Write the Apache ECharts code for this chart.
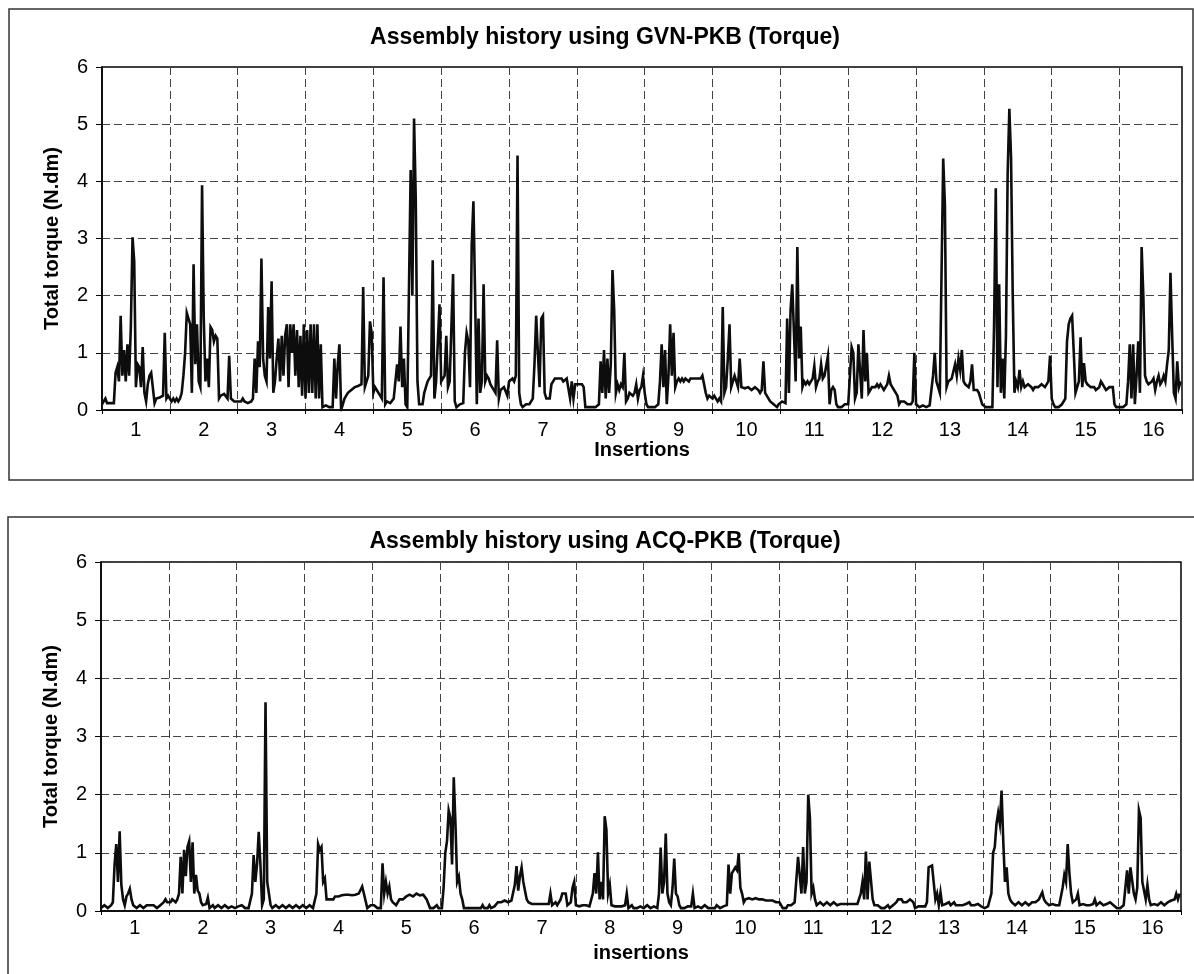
<!DOCTYPE html>
<html>
<head>
<meta charset="utf-8">
<script src="https://cdn.jsdelivr.net/npm/echarts@6/dist/echarts.min.js"></script>
<style>
  html, body { margin: 0; padding: 0; background: #fff; }
  #chart { width: 1194px; height: 974px; }
</style>
</head>
<body>
<div id="chart"></div>
<script>
// torque readings, 40 samples per insertion (last insertion is cut by the axis end)
const insertionLabels = ["1","2","3","4","5","6","7","8","9","10","11","12","13","14","15","16"];
const yTicks = [0, 1, 2, 3, 4, 5, 6];
const samplesPerInsertion = 40;
const xMax = 15.92;

const gvnTorque = [
  [0.1,0.15,0.2,0.12,0.1,0.12,0.1,0.12,0.65,0.75,0.5,1.65,0.6,1.05,0.5,1.15,0.6,1.45,3.02,2.6,0.4,0.8,0.75,0.4,1.1,0.3,0.15,0.45,0.6,0.65,0.65,0.12,0.2,0.2,0.22,0.25,0.25,1.35,0.2,0.25],
  [0.2,0.15,0.2,0.15,0.2,0.15,0.2,0.3,0.6,1.0,1.7,1.6,1.5,0.3,2.55,0.8,1.5,0.5,0.4,3.93,1.6,0.5,0.9,0.4,1.45,1.4,1.2,1.3,1.25,0.2,0.25,0.25,0.28,0.25,0.2,0.95,0.2,0.2,0.15,0.18],
  [0.15,0.18,0.15,0.2,0.15,0.15,0.12,0.15,0.15,0.2,0.9,0.3,1.2,0.75,2.65,0.9,0.6,0.5,1.8,0.9,2.25,0.3,0.5,0.9,1.25,0.5,1.3,0.6,1.3,1.5,0.4,1.5,1.0,1.5,0.6,1.4,0.4,1.3,0.25,1.5],
  [0.2,1.4,0.3,1.5,0.3,1.5,0.2,1.5,0.2,1.15,0.05,0.05,0.08,0.05,0.05,0.08,0.05,0.9,0.2,0.8,1.15,0.0,0.1,0.2,0.25,0.3,0.3,0.35,0.35,0.4,0.4,0.42,0.45,0.45,2.15,0.4,0.5,0.6,1.55,1.35],
  [0.3,0.4,0.35,0.3,0.25,0.2,2.32,0.1,0.15,0.15,0.12,0.15,0.2,0.2,0.8,0.5,1.46,0.4,0.9,0.1,0.05,0.05,4.2,2.0,5.1,3.7,0.5,0.1,0.1,0.1,0.3,0.4,0.5,0.5,0.6,2.62,0.2,0.5,0.5,1.85],
  [0.5,0.5,0.6,1.3,0.4,0.5,0.5,2.38,0.15,0.05,0.05,0.1,0.1,0.12,1.0,1.35,1.2,0.4,2.9,3.65,2.0,0.1,1.6,0.3,0.5,2.2,0.5,0.6,0.55,0.45,0.4,0.4,0.3,1.22,0.2,0.35,0.35,0.4,0.4,0.25],
  [0.5,0.5,0.55,0.5,0.6,4.45,0.3,0.1,0.05,0.05,0.1,0.08,0.1,0.1,0.2,0.8,1.65,1.0,0.4,1.6,1.65,0.3,0.2,0.2,0.2,0.45,0.5,0.55,0.52,0.55,0.55,0.55,0.5,0.5,0.55,0.55,0.2,0.5,0.2,0.45],
  [0.45,0.45,0.45,0.45,0.4,0.05,0.05,0.05,0.05,0.05,0.05,0.05,0.05,0.1,0.85,0.3,1.05,0.2,0.9,0.3,0.8,2.45,1.75,0.3,0.45,0.35,0.45,0.4,1.0,0.15,0.2,0.3,0.3,0.25,0.3,0.45,0.2,0.35,0.4,0.6],
  [0.3,0.1,0.05,0.05,0.05,0.05,0.05,0.05,0.1,0.5,1.15,0.4,1.05,0.1,0.6,1.5,0.6,1.35,0.4,0.5,0.55,0.5,0.55,0.5,0.55,0.52,0.5,0.55,0.52,0.55,0.55,0.55,0.58,0.55,0.6,0.6,0.3,0.2,0.25,0.22],
  [0.2,0.25,0.2,0.15,0.2,0.15,1.8,0.3,0.4,0.9,1.5,0.4,0.5,0.6,0.5,0.4,0.9,0.4,0.4,0.38,0.35,0.4,0.4,0.35,0.35,0.4,0.4,0.35,0.3,0.35,0.85,0.3,0.3,0.2,0.15,0.12,0.1,0.08,0.05,0.1],
  [0.1,0.15,0.15,0.12,1.6,0.3,1.75,2.2,1.35,0.5,2.85,0.9,1.46,0.4,0.5,0.45,0.5,0.45,0.5,0.55,0.77,0.4,0.5,0.55,0.8,0.55,0.6,0.6,0.94,0.1,0.35,0.4,0.35,0.1,0.05,0.05,0.05,0.05,0.1,0.1],
  [0.1,0.1,1.1,1.0,0.2,0.3,1.15,1.15,0.2,1.4,0.5,1.0,0.3,0.35,0.4,0.4,0.4,0.45,0.4,0.45,0.4,0.35,0.4,0.45,0.6,0.45,0.4,0.35,0.35,0.25,0.1,0.15,0.15,0.15,0.15,0.1,0.1,0.1,0.15,1.0],
  [0.1,0.1,0.05,0.05,0.08,0.05,0.05,0.05,0.08,0.1,0.6,1.0,0.5,0.4,0.3,0.3,4.4,3.6,0.4,0.5,0.5,0.55,0.55,0.8,0.6,0.9,0.7,1.05,0.5,0.45,0.45,0.4,0.5,0.8,0.35,0.35,0.35,0.3,0.3,0.1],
  [0.1,0.05,0.05,0.05,0.05,0.05,1.5,3.88,0.4,2.2,0.3,0.9,0.2,1.3,4.14,5.27,4.42,2.0,0.3,0.5,0.4,0.7,0.4,0.5,0.4,0.4,0.45,0.45,0.4,0.35,0.4,0.4,0.4,0.4,0.45,0.45,0.4,0.4,0.5,0.95],
  [0.2,0.1,0.05,0.05,0.05,0.05,0.1,0.1,0.2,1.2,1.5,1.6,1.65,1.0,0.3,0.4,0.5,1.27,0.4,0.82,0.5,0.45,0.45,0.4,0.4,0.4,0.35,0.35,0.4,0.5,0.45,0.4,0.35,0.35,0.4,0.4,0.4,0.1,0.05,0.05],
  [0.05,0.05,0.05,0.08,0.1,0.5,1.15,0.2,1.15,0.1,0.6,1.2,0.3,2.85,2.0,0.6,0.5,0.45,0.45,0.5,0.55,0.35,0.5,0.6,0.45,0.5,0.6,0.5,0.8,1.05,2.4,1.3,0.3,0.2,0.85,0.4,0.5]
];

const acqTorque = [
  [0.05,0.08,0.1,0.08,0.05,0.08,0.1,0.15,0.8,1.15,0.5,1.37,0.45,0.2,0.1,0.25,0.3,0.38,0.2,0.1,0.08,0.05,0.08,0.1,0.08,0.05,0.08,0.1,0.12,0.1,0.08,0.1,0.08,0.05,0.08,0.1,0.12,0.15,0.2,0.15],
  [0.15,0.15,0.2,0.18,0.15,0.2,0.3,0.93,0.3,1.05,0.6,1.1,1.2,0.5,1.18,0.3,0.62,0.35,0.3,0.15,0.1,0.1,0.12,0.23,0.05,0.08,0.1,0.05,0.08,0.1,0.1,0.05,0.08,0.1,0.08,0.05,0.05,0.08,0.05,0.05],
  [0.05,0.08,0.05,0.1,0.08,0.05,0.08,0.05,0.05,0.3,0.96,0.5,0.8,1.36,0.8,0.1,0.2,3.59,0.5,0.3,0.1,0.05,0.08,0.1,0.08,0.05,0.08,0.1,0.08,0.05,0.08,0.1,0.08,0.05,0.08,0.1,0.08,0.05,0.08,0.1],
  [0.08,0.05,0.08,0.1,0.08,0.05,0.08,0.3,1.15,1.05,1.1,0.5,0.56,0.2,0.18,0.2,0.22,0.2,0.25,0.23,0.25,0.25,0.27,0.25,0.28,0.27,0.28,0.26,0.27,0.28,0.28,0.25,0.3,0.32,0.42,0.3,0.3,0.05,0.08,0.1],
  [0.1,0.1,0.08,0.05,0.08,0.05,0.82,0.3,0.5,0.3,0.42,0.2,0.15,0.15,0.1,0.12,0.2,0.2,0.2,0.22,0.25,0.25,0.28,0.28,0.25,0.25,0.3,0.28,0.27,0.28,0.28,0.25,0.2,0.2,0.05,0.05,0.05,0.08,0.1,0.05],
  [0.05,0.05,0.4,1.0,1.2,1.73,1.6,0.8,2.3,1.5,0.5,0.59,0.3,0.2,0.05,0.05,0.05,0.08,0.05,0.05,0.05,0.08,0.05,0.05,0.05,0.1,0.05,0.08,0.05,0.1,0.05,0.05,0.08,0.05,0.15,0.15,0.15,0.15,0.18,0.15],
  [0.15,0.15,0.18,0.2,0.45,0.77,0.35,0.6,0.75,0.5,0.35,0.2,0.15,0.15,0.12,0.1,0.12,0.15,0.12,0.1,0.12,0.15,0.12,0.15,0.12,0.3,0.1,0.12,0.15,0.1,0.12,0.2,0.3,0.32,0.3,0.1,0.12,0.15,0.4,0.5],
  [0.1,0.1,0.08,0.1,0.1,0.08,0.1,0.1,0.08,0.1,0.3,0.65,0.3,1.01,0.2,0.5,0.2,1.63,1.4,0.3,0.45,0.1,0.1,0.08,0.05,0.08,0.1,0.08,0.1,0.1,0.3,0.05,0.08,0.1,0.05,0.08,0.05,0.05,0.08,0.05],
  [0.05,0.08,0.1,0.08,0.05,0.05,0.08,0.05,0.05,0.3,1.09,0.3,0.5,1.33,0.3,0.15,0.1,0.4,0.9,0.3,0.25,0.1,0.05,0.08,0.05,0.05,0.08,0.05,0.08,0.3,0.05,0.05,0.08,0.05,0.05,0.08,0.1,0.08,0.05,0.05],
  [0.05,0.08,0.05,0.1,0.08,0.05,0.05,0.08,0.05,0.1,0.8,0.3,0.65,0.7,0.75,0.7,0.98,0.4,0.3,0.15,0.2,0.2,0.22,0.22,0.2,0.2,0.22,0.2,0.2,0.2,0.2,0.2,0.18,0.2,0.18,0.15,0.18,0.15,0.15,0.15],
  [0.15,0.1,0.05,0.08,0.05,0.1,0.08,0.1,0.12,0.15,0.12,0.93,0.9,0.3,1.1,0.3,0.5,2.0,1.6,0.3,0.4,0.2,0.1,0.12,0.15,0.12,0.1,0.12,0.15,0.12,0.1,0.12,0.15,0.12,0.1,0.1,0.12,0.15,0.12,0.1],
  [0.12,0.15,0.12,0.1,0.12,0.15,0.12,0.1,0.3,0.5,0.2,1.02,0.2,0.85,0.85,0.2,0.1,0.12,0.1,0.08,0.05,0.08,0.05,0.08,0.1,0.05,0.08,0.1,0.12,0.15,0.2,0.18,0.2,0.15,0.18,0.15,0.15,0.2,0.18,0.15],
  [0.05,0.05,0.08,0.1,0.08,0.05,0.08,0.15,0.75,0.78,0.78,0.75,0.2,0.3,0.1,0.32,0.1,0.1,0.12,0.1,0.15,0.1,0.12,0.15,0.1,0.12,0.1,0.12,0.1,0.1,0.12,0.1,0.15,0.1,0.12,0.1,0.1,0.12,0.1,0.08],
  [0.05,0.05,0.05,0.08,0.05,0.3,1.0,1.1,1.5,1.69,1.5,2.07,1.2,0.5,0.75,0.3,0.2,0.15,0.12,0.1,0.12,0.15,0.12,0.1,0.12,0.15,0.12,0.1,0.12,0.15,0.12,0.15,0.15,0.2,0.18,0.32,0.2,0.15,0.12,0.1],
  [0.1,0.12,0.1,0.1,0.12,0.1,0.1,0.4,0.62,0.5,1.15,0.65,0.3,0.15,0.15,0.2,0.3,0.1,0.1,0.12,0.1,0.1,0.12,0.1,0.1,0.12,0.2,0.1,0.12,0.15,0.12,0.1,0.1,0.12,0.1,0.15,0.12,0.1,0.1,0.05],
  [0.05,0.05,0.08,0.1,0.1,0.7,0.3,0.75,0.78,0.3,0.2,0.4,1.73,1.6,0.5,0.5,0.2,0.45,0.2,0.1,0.1,0.12,0.1,0.1,0.12,0.15,0.12,0.1,0.12,0.15,0.15,0.18,0.2,0.2,0.3,0.2,0.3]
];

// place each insertion's samples along the insertion axis
function toPoints(insertions) {
  const pts = [];
  insertions.forEach(function (vals, k) {
    vals.forEach(function (v, j) {
      pts.push([k + j / samplesPerInsertion, v]);
    });
  });
  return pts;
}

const font = "'Liberation Sans', Arial, Helvetica, sans-serif";
const dashed = { color: "#444", width: 1, type: [8, 4] };

function gridXAxes(gi, name, nameGap, labelMargin) {
  return [
    {
      gridIndex: gi, type: "value", position: "bottom",
      min: 0, max: xMax, interval: 1,
      axisLine: { show: true, onZero: false, lineStyle: { color: "#000", width: 1.5 } },
      axisTick: { show: true, length: 4, lineStyle: { color: "#000" } },
      axisLabel: { show: false },
      splitLine: { show: true, lineStyle: dashed }
    },
    {
      gridIndex: gi, type: "value", position: "bottom",
      min: 0, max: xMax, interval: 0.5,
      axisLine: { show: false },
      axisTick: { show: false },
      splitLine: { show: false },
      axisLabel: {
        margin: labelMargin, fontSize: 20, color: "#000", fontFamily: font,
        showMinLabel: false, showMaxLabel: false,
        formatter: function (v) {
          const i = Math.floor(v);
          return (v - i === 0.5) ? insertionLabels[i] : "";
        }
      },
      name: name, nameLocation: "middle", nameGap: nameGap,
      nameTextStyle: { fontSize: 20, fontWeight: "bold", color: "#000", fontFamily: font }
    }
  ];
}

function gridYAxis(gi) {
  return {
    gridIndex: gi, type: "value",
    min: yTicks[0], max: yTicks[yTicks.length - 1], interval: 1,
    axisLine: { show: true, lineStyle: { color: "#000", width: 1.5 } },
    axisTick: { show: true, length: 6, lineStyle: { color: "#000" } },
    axisLabel: { margin: 14, fontSize: 20, color: "#000", fontFamily: font },
    splitLine: { show: true, lineStyle: dashed },
    name: "Total torque (N.dm)", nameLocation: "middle", nameGap: 40,
    nameTextStyle: { fontSize: 20, fontWeight: "bold", color: "#000", fontFamily: font }
  };
}

const option = {
  animation: false,
  backgroundColor: "#fff",
  title: [
    {
      text: "Assembly history using GVN-PKB (Torque)",
      left: 605, top: 26, textAlign: "center", padding: 0,
      textStyle: { fontSize: 23, fontWeight: "bold", color: "#000", fontFamily: font }
    },
    {
      text: "Assembly history using ACQ-PKB (Torque)",
      left: 605, top: 530, textAlign: "center", padding: 0,
      textStyle: { fontSize: 23, fontWeight: "bold", color: "#000", fontFamily: font }
    }
  ],
  graphic: [
    { type: "rect", shape: { x: 9, y: 9, width: 1184, height: 471 },
      style: { fill: "none", stroke: "#333", lineWidth: 1.5 }, silent: true },
    { type: "rect", shape: { x: 8, y: 517, width: 1200, height: 480 },
      style: { fill: "none", stroke: "#333", lineWidth: 1.5 }, silent: true }
  ],
  grid: [
    { left: 102, top: 67, width: 1080, height: 343, show: true, borderColor: "#000", borderWidth: 1.5 },
    { left: 101, top: 562, width: 1080, height: 349, show: true, borderColor: "#000", borderWidth: 1.5 }
  ],
  xAxis: gridXAxes(0, "Insertions", 30, 10).concat(gridXAxes(1, "insertions", 32, 7)),
  yAxis: [gridYAxis(0), gridYAxis(1)],
  series: [
    {
      name: "GVN-PKB", type: "line", xAxisIndex: 0, yAxisIndex: 0,
      data: toPoints(gvnTorque), showSymbol: false, sampling: "none",
      lineStyle: { color: "#0d0d0d", width: 2.6, join: "miter" }
    },
    {
      name: "ACQ-PKB", type: "line", xAxisIndex: 2, yAxisIndex: 1,
      data: toPoints(acqTorque), showSymbol: false, sampling: "none",
      lineStyle: { color: "#0d0d0d", width: 2.6, join: "miter" }
    }
  ]
};

const chart = echarts.init(document.getElementById("chart"), null, { renderer: "canvas" });
chart.setOption(option);
window.addEventListener("resize", function () { chart.resize(); });
</script>
</body>
</html>
